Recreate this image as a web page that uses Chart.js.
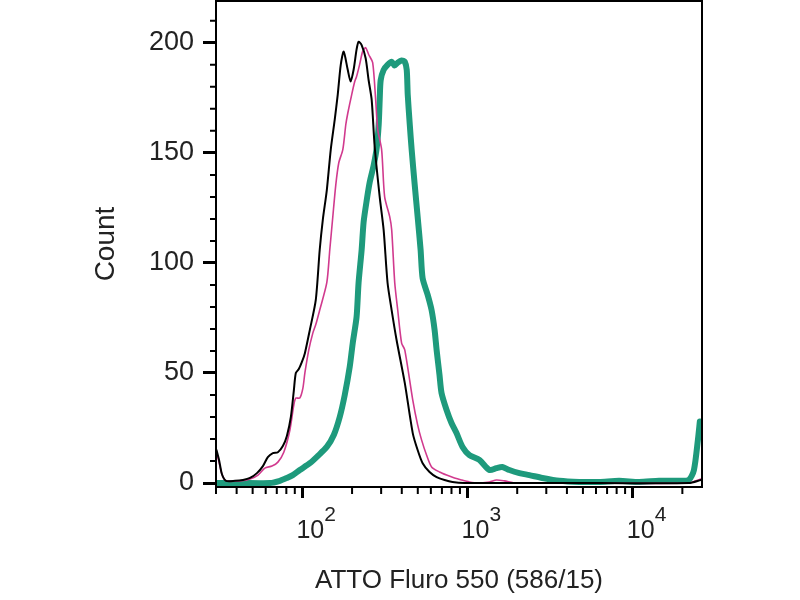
<!DOCTYPE html>
<html>
<head>
<meta charset="utf-8">
<script src="https://cdn.jsdelivr.net/npm/chart.js@4/dist/chart.umd.min.js"></script>
<style>
  body { margin: 0; background: #fff; }
  #wrap { width: 800px; height: 600px; }
</style>
</head>
<body>
<div id="wrap"><canvas id="histChart"></canvas></div>
<script>
// channel values (x) and counts (y)
const blackX = [30.2, 31.3, 32.6, 34.5, 39.1, 43.7, 48.2, 53.1, 57.7, 61.8, 66.3, 71.1, 76.2, 80.6, 85.2, 88.8, 91.3, 95.2, 99.4, 103.6, 111, 120.6, 127.4, 133, 140.6, 148.6, 157, 163.8, 170.8, 178, 188, 196, 204.6, 213, 219, 228.6, 241.7, 252, 263, 274, 294, 310.6, 328, 347, 372, 417, 466, 499, 535, 589, 650, 726, 811, 959, 1560, 6270, 21900, 25900];
const blackY = [15, 10.5, 4, 1, 1, 1.4, 2.3, 4.5, 7.7, 11.8, 13.6, 14, 16.8, 21.4, 30, 42, 50, 51.8, 55, 59, 69.6, 83.2, 106, 119.6, 133, 151.5, 165, 176.5, 190, 196, 188, 182.4, 188, 197, 200.5, 199, 193, 183, 174, 153, 130, 115, 91, 78.7, 65, 45.5, 22.7, 15, 9, 5, 2.7, 1.4, 0.5, 0, 0, 0, 0, 1.4];

const pinkX = [30.2, 31.3, 32.6, 34.5, 41.9, 48.2, 53.9, 59.3, 65.5, 71.1, 77.2, 84, 88.8, 91.3, 96.5, 100.7, 103.6, 109.4, 115.6, 120.6, 127.4, 140.6, 146.6, 152.9, 159.4, 166.2, 175.8, 183.4, 188.4, 199, 207.6, 213, 222, 231.7, 241.7, 252, 266.6, 278, 286, 302, 315, 338, 347.5, 362.6, 378, 399, 417, 466, 499, 527, 565, 606, 677, 747, 834, 919, 1027, 1148, 1358, 1497, 1672, 1977, 6270, 21900, 25900];
const pinkY = [14, 9.5, 4, 1, 1, 1.8, 3.6, 6.8, 7.7, 9.5, 14, 24, 35.5, 38.6, 38.6, 43, 50, 60.5, 68, 72, 78.6, 91, 106, 121, 135.5, 145.5, 151.5, 163, 168, 176.5, 182.4, 184.7, 190, 196, 197.8, 194.7, 191, 174, 160.6, 151.5, 130, 121, 115, 91, 78.6, 63.6, 60.5, 37.8, 26.4, 19.6, 12.7, 7.3, 5, 3.6, 2.3, 1.4, 0.5, 0, 0.5, 1.4, 1, 0, 0, 0, 1.8];

const tealX = [30, 41.9, 63.6, 73.1, 80.6, 87.5, 96.5, 111, 124, 140.6, 155, 168.4, 180.6, 193.6, 201.9, 213, 219, 228.6, 235, 245.5, 256, 270.5, 282, 290, 294, 298, 310.6, 328, 347.5, 362, 378, 399, 417, 428.6, 434.6, 447, 459, 479, 499, 520, 535, 574, 606, 632, 650, 677, 696, 747, 800, 858, 933, 1027, 1180, 1358, 1497, 1627, 1793, 2061, 2370, 2840, 3597, 4754, 6270, 8280, 10930, 14450, 19070, 21900, 23500, 24840, 25530];
const tealY = [0, 0, 0, 1, 2.3, 3.6, 5.9, 9, 12.3, 16.4, 21.8, 30, 40, 52.8, 63.6, 75.5, 91, 106, 118.6, 128.6, 136.8, 144.5, 152.3, 163, 174, 183, 187.7, 190, 191.4, 189.7, 191, 192, 191.4, 187.7, 176.5, 163, 151.5, 135.5, 121, 106, 93, 85.5, 78.6, 69.6, 60.5, 49, 41, 33.2, 27.3, 22.7, 16.4, 12.7, 10.5, 5.9, 6.8, 7.3, 5.9, 4.5, 3.6, 2.3, 1, 0.5, 0.5, 1, 0.5, 1, 1, 1.4, 5.9, 19.6, 28];

// axis ticks
const xMajorTicks = [100, 1000, 10000];
const xExponents = ['2', '3', '4'];
const xMinorTicks = [30, 40, 50, 60, 70, 80, 90, 200, 300, 400, 500, 600, 700, 800, 900, 2000, 3000, 4000, 5000, 6000, 7000, 8000, 9000, 20000];
const yMajorTicks = [0, 50, 100, 150, 200];
const yMinorTicks = [10, 20, 30, 40, 60, 70, 80, 90, 110, 120, 130, 140, 160, 170, 180, 190, 210];

function toPoints(xs, ys) {
    return xs.map((x, i) => ({ x: x, y: ys[i] }));
}

const fontFamily = '"Liberation Sans", Arial, sans-serif';
const textColor = '#222';

// frame, minor ticks and the exponents of the x labels
const extrasPlugin = {
    id: 'extras',
    afterDraw(chart) {
        const ctx = chart.ctx;
        const area = chart.chartArea;
        const xs = chart.scales.x;
        const ys = chart.scales.y;
        ctx.save();
        ctx.strokeStyle = '#000';
        ctx.lineWidth = 2;
        ctx.strokeRect(area.left, area.top, area.right - area.left, area.bottom - area.top);

        ctx.beginPath();
        xMinorTicks.forEach(v => {
            const px = xs.getPixelForValue(v);
            ctx.moveTo(px, area.bottom);
            ctx.lineTo(px, area.bottom + 7);
        });
        yMinorTicks.forEach(v => {
            const py = ys.getPixelForValue(v);
            ctx.moveTo(area.left, py);
            ctx.lineTo(area.left - 6, py);
        });
        ctx.stroke();

        ctx.fillStyle = textColor;
        ctx.font = '21px ' + fontFamily;
        ctx.textAlign = 'left';
        ctx.textBaseline = 'middle';
        xMajorTicks.forEach((v, i) => {
            const px = xs.getPixelForValue(v);
            ctx.fillText(xExponents[i], px + 22, area.bottom + 28);
        });
        ctx.restore();
    }
};

new Chart(document.getElementById('histChart'), {
    type: 'line',
    data: {
        datasets: [
            {
                label: 'Control',
                data: toPoints(blackX, blackY),
                borderColor: '#000000',
                borderWidth: 2,
                order: 1
            },
            {
                label: 'Isotype',
                data: toPoints(pinkX, pinkY),
                borderColor: '#d13a8e',
                borderWidth: 1.6,
                order: 2
            },
            {
                label: 'ATTO 550',
                data: toPoints(tealX, tealY),
                borderColor: '#1e9a7c',
                borderWidth: 6,
                order: 3
            }
        ]
    },
    options: {
        responsive: true,
        maintainAspectRatio: false,
        animation: false,
        layout: { padding: { top: 1, right: 98, left: 0, bottom: 0 } },
        elements: {
            point: { radius: 0 },
            line: { tension: 0.25, fill: false, borderJoinStyle: 'round', borderCapStyle: 'round' }
        },
        plugins: {
            legend: { display: false },
            tooltip: { enabled: false }
        },
        scales: {
            x: {
                type: 'logarithmic',
                min: 30,
                max: 26300,
                afterBuildTicks: axis => { axis.ticks = xMajorTicks.map(v => ({ value: v, major: true })); },
                afterFit: axis => {
                    axis.height = 113;
                    axis.paddingLeft = 0;
                    axis.paddingRight = 0;
                },
                ticks: {
                    autoSkip: false,
                    maxRotation: 0,
                    padding: 18,
                    labelOffset: 8,
                    color: textColor,
                    font: { family: fontFamily, size: 25 },
                    callback: () => '10'
                },
                grid: {
                    display: true,
                    drawOnChartArea: false,
                    drawTicks: true,
                    tickLength: 11,
                    tickWidth: 3,
                    tickColor: '#000'
                },
                border: { display: true, color: '#000', width: 2 },
                title: {
                    display: true,
                    text: 'ATTO Fluro 550 (586/15)',
                    color: textColor,
                    font: { family: fontFamily, size: 26 },
                    padding: { top: 0, bottom: 4 }
                }
            },
            y: {
                min: -1.8,
                max: 219,
                afterBuildTicks: axis => { axis.ticks = yMajorTicks.map(v => ({ value: v })); },
                afterFit: axis => {
                    axis.width = 216;
                    axis.paddingTop = 0;
                    axis.paddingBottom = 0;
                },
                ticks: {
                    padding: 9,
                    color: textColor,
                    font: { family: fontFamily, size: 27 }
                },
                grid: {
                    display: true,
                    drawOnChartArea: false,
                    drawTicks: true,
                    tickLength: 13,
                    tickWidth: 3,
                    tickColor: '#000'
                },
                border: { display: true, color: '#000', width: 2 },
                title: {
                    display: true,
                    text: 'Count',
                    color: textColor,
                    font: { family: fontFamily, size: 28 },
                    padding: { top: 89, bottom: 0 }
                }
            }
        }
    },
    plugins: [extrasPlugin]
});
</script>
</body>
</html>
